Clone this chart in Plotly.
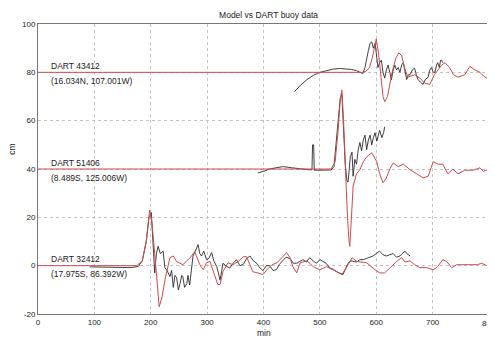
import plotly.graph_objects as go

# station labels and vertical offsets (cm)
stations = ["DART 43412", "DART 51406", "DART 32412"]
coords = ["(16.034N, 107.001W)", "(8.489S, 125.006W)", "(17.975S, 86.392W)"]
offsets = [80, 40, 0]

# ---- DART 32412 ----
m32_t = [0, 175, 185, 192, 198, 202, 207, 211, 215, 220, 226, 234, 240, 246, 257, 264, 270, 278, 287, 293, 299, 305, 311, 319, 323, 328, 337, 346, 355, 364, 370, 376, 381, 390, 399, 406, 415, 424, 433, 441, 447, 452, 459, 465, 477, 488, 500, 512, 523, 539, 548, 557, 566, 583, 598, 606, 615, 624, 636, 645, 651, 660, 668, 677, 690, 701, 709, 718, 725, 734, 743, 761, 779, 787, 796, 800]
m32_v = [0, 0, 2, 10, 23, 18, 5, -8, -17, -13, -5, 3.3, 4, 1.7, 0.4, 2, 3.3, 5.8, 0.4, -1.7, 1.2, 1.7, -2.5, -7.8, -7.8, -2.5, 1.2, 0.4, 1.7, 3.7, 3.7, 0.4, -2.5, -3, -3.7, -1.7, 0.4, 1.2, 3.3, 5.4, 3.3, -0.4, -3, 1.2, 2, -0.4, -1.7, -0.4, -1.7, -3.7, -0.4, 3.3, 1.7, 1.2, -1.7, -3, -3, -0.8, 1.7, 3.3, 1.5, 2, 0.4, -0.8, -0.8, -1.7, -0.4, 2.5, 1.7, -0.8, 0.4, 0.4, 0.4, 1, 0, 0]
o32_t = [92, 110, 130, 150, 165, 178, 185, 192, 197, 201, 204, 207, 210, 213, 217, 222, 225, 229, 234, 237, 240, 243, 246, 249, 252, 255, 257, 260, 264, 266, 269, 272, 275, 279, 284, 287, 290, 294, 299, 303, 308, 312, 317, 320, 323, 326, 328, 333, 340, 346, 352, 358, 364, 370, 376, 382, 388, 394, 399, 405, 411, 417, 423, 428, 434, 440, 447, 453, 459, 465, 470, 476, 482, 488, 494, 500, 505, 511, 518, 524, 530, 536, 541, 546, 550, 555, 559, 565, 571, 577, 583, 589, 594, 600, 606, 612, 618, 624, 630, 636, 642, 646, 651, 654, 657, 660]
o32_v = [-0.5, -0.6, -0.7, -0.6, -0.8, -0.3, 2, 10, 20, 22, 10, -3, 5, 8, 5, 6, -0.8, -2, -4.5, -2, -9, -4, -5, -10, -7.4, -4, -4.6, -9, -7.4, -4, -8, -3, 4, 6, 8.7, 5, 4, 6, 2.5, 3, 5.4, 2, -0.4, -3, -6, -2, 1, 0, -1, 1, 2.5, 0, 0.5, 3, 4, 2, 1, -1, -2, 0, 0, -2, -1.6, 0.5, 2, 3.5, 3, 1, 1, 2, 2.5, 1.5, 3.3, 2, 1, 2.5, 1.7, 1, -1, -1.5, -2.5, -3, -3.7, -1, 1, 2, 1.7, 1.5, 2.5, 2.5, 3, 3.5, 4, 5, 6, 4.5, 4, 4.5, 5, 3.5, 4, 5, 6, 5, 4.5, 4]

# ---- DART 51406 ----
m51_t = [0, 520, 527, 532, 536, 539, 542, 545, 548, 551, 553, 556, 559, 565, 571, 577, 583, 592, 601, 606, 612, 618, 624, 630, 639, 648, 660, 672, 683, 692, 701, 710, 718, 727, 736, 745, 757, 772, 784, 790, 800]
m51_v = [0, 0, 3, 15, 28, 32.7, 20, 0, -15, -28, -32, -20, -7, -2, -0.3, 3, 5, 6.7, 3, -2, -5.7, -3.7, 0, 2.5, 1, 2, -0.3, -2, -3.7, -3, 3, 2, 2, -2, 0, -2, -0.5, -0.5, 0.5, -1, 0]
o51_t = [390, 400, 410, 420, 435, 450, 465, 480, 486, 487, 489, 490, 500, 510, 520, 525, 532, 536, 539, 542, 545, 548, 550, 554, 557, 559, 562, 565, 568, 571, 574, 577, 580, 583, 586, 589, 592, 595, 598, 601, 604, 606, 610, 613, 615]
o51_v = [-1.6, -1, 0, 0.5, 1, 0.5, 0, -0.3, -0.3, 10, 10, -0.5, -0.5, -0.6, -0.4, 1, 20, 29, 31, 18, 2, -5, -5.4, 5, 7, -3, 4, 2, 8, 11, 7.5, 12, 14, 8, 12, 14, 10, 13, 15, 11.5, 14, 16, 13, 15, 17.5]

# ---- DART 43412 ----
m43_t = [0, 575, 582, 588, 593, 597, 600, 604, 608, 612, 615, 620, 628, 635, 640, 645, 650, 656, 668, 677, 686, 695, 703, 709, 716, 722, 730, 737, 745, 757, 766, 775, 784, 790, 800]
m43_v = [0, 0, 0.5, 2, 6, 11, 13.8, 8, -2, -10, -12.2, -10, 0, 6, 8, 7, 2, -2, -1, -2.3, -4.5, -5, -1, 1, 3, 4, 2, -1, -2, -1, 2.5, 1, 0, -1.5, -3]
o43_t = [455, 465, 477, 490, 500, 512, 523, 535, 547, 556, 565, 572, 576, 580, 583, 586, 589, 592, 595, 598, 601, 603, 606, 609, 612, 615, 618, 621, 624, 627, 630, 633, 636, 639, 642, 645, 648, 651, 654, 657, 660, 664, 668, 671, 674, 678, 683, 687, 692, 695, 698, 701, 704, 707, 709, 712, 714, 716, 718]
o43_v = [-8, -5.5, -3, -1, 0, 0.8, 1.3, 1.6, 1.5, 1.2, 0.7, 0, -0.5, 2, 6, 9, 12, 12.6, 10, 12, 6, 2, 4, 5, 0, -2.4, 1, 3, 0, -3, 1, 3, 1, 2, 0, 3, 4, 1, -3, -1, -1, 1, 1.7, -1, -3, -4, -5, -3, -2, 1, 2, 0, 0, 3, 4, 2, 5, 5, 4]

x_ticks = [0, 100, 200, 300, 400, 500, 600, 700, 800]
y_ticks = [-20, 0, 20, 40, 60, 80, 100]

RED = "#d04a4a"
BLACK = "#2a2a2a"
FAM = "Liberation Sans, Arial, sans-serif"

series = [
    (m43_t, m43_v, o43_t, o43_v, offsets[0]),
    (m51_t, m51_v, o51_t, o51_v, offsets[1]),
    (m32_t, m32_v, o32_t, o32_v, offsets[2]),
]

fig = go.Figure()
for mt, mv, ot, ov, off in series:
    fig.add_trace(go.Scatter(x=ot, y=[v + off for v in ov], mode="lines",
                             line=dict(color=BLACK, width=0.9), showlegend=False))
    fig.add_trace(go.Scatter(x=mt, y=[v + off for v in mv], mode="lines",
                             line=dict(color=RED, width=1), showlegend=False))

font = dict(family=FAM, size=8.5, color="#222")
for name, crd, off in zip(stations, coords, offsets):
    fig.add_annotation(x=19, y=off + 2.6, text=name, showarrow=False,
                       xanchor="left", yanchor="middle", font=font)
    fig.add_annotation(x=19, y=off - 3.6, text=crd, showarrow=False,
                       xanchor="left", yanchor="middle", font=font)

# axis titles and the clipped last x tick label
fig.add_annotation(x=0.5, xref="paper", y=0, yref="paper", yshift=-19, text="min",
                   showarrow=False, xanchor="center", yanchor="middle", font=font)
fig.add_annotation(x=0, xref="paper", xshift=-26, y=0.566, yref="paper", text="cm",
                   textangle=-90, showarrow=False, xanchor="center", yanchor="middle", font=font)
fig.add_annotation(x=x_ticks[-1], xref="x", y=0, yref="paper", yshift=-9,
                   text=str(x_ticks[-1]), showarrow=False, xanchor="center", yanchor="middle",
                   font=dict(family=FAM, size=8, color="#222"))

# the page body adds an 8px margin, so the figure is 8px smaller each way
fig.update_layout(
    width=487, height=329,
    margin=dict(l=30, r=6, t=16, b=23),
    paper_bgcolor="white", plot_bgcolor="white",
    title=dict(text="Model vs DART buoy data", x=0.535, xanchor="center",
               y=1 - 7 / 329, yanchor="middle",
               font=dict(family=FAM, size=8.5, color="#222")),
    font=font,
)
axis_common = dict(showgrid=True, gridcolor="#c4c4c4", griddash="dot", gridwidth=1,
                   zeroline=False, showline=True, linecolor="#777", linewidth=1,
                   mirror=True, ticks="", tickfont=dict(family=FAM, size=8, color="#222"))
fig.update_xaxes(range=[0, 800], tickvals=x_ticks[:-1], ticktext=[str(v) for v in x_ticks[:-1]],
                 **axis_common)
fig.update_yaxes(range=[-20, 100], tickvals=y_ticks, ticktext=[str(v) for v in y_ticks],
                 **axis_common)

fig.write_html("out.html")
